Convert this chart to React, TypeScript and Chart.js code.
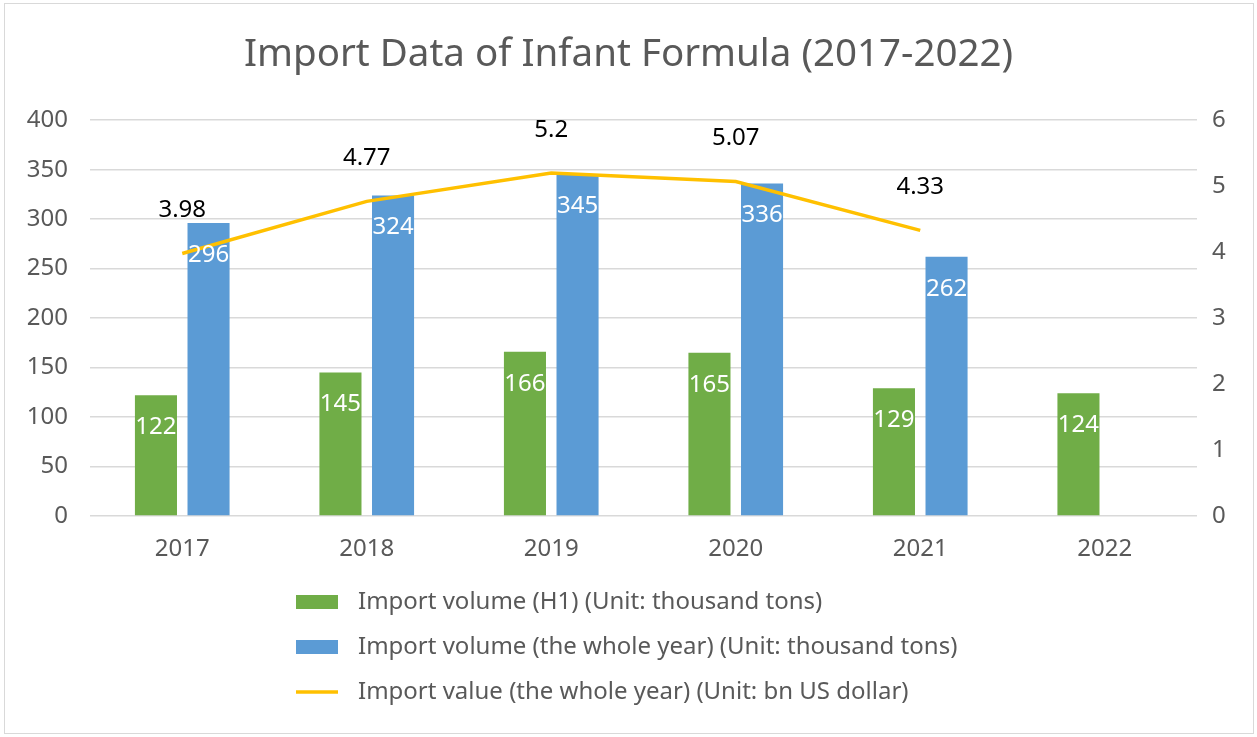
import React, { useEffect, useRef } from "react";
import { Chart, registerables } from "chart.js";

Chart.register(...registerables);

const years = ["2017", "2018", "2019", "2020", "2021", "2022"];
const volumeH1 = [122, 145, 166, 165, 129, 124];
const volumeYear = [296, 324, 345, 336, 262, null];
const valueYear = [3.98, 4.77, 5.2, 5.07, 4.33, null];

const leftTicks = [0, 50, 100, 150, 200, 250, 300, 350, 400];
const rightTicks = [0, 1, 2, 3, 4, 5, 6];

const seriesNames = [
  "Import volume (H1) (Unit: thousand tons)",
  "Import volume (the whole year) (Unit: thousand tons)",
  "Import value (the whole year) (Unit: bn US dollar)",
];

const GREEN = "#70AD47";
const BLUE = "#5B9BD5";
const GOLD = "#FFC000";
const GREY_TEXT = "#595959";
const FONT = "'Noto Sans', sans-serif";
const TEXT_SIZE = 24;

// Value labels: white inside the top of each bar, black above each line point
const valueLabels = {
  id: "valueLabels",
  afterDatasetsDraw(chart: any) {
    const ctx = chart.ctx;
    ctx.save();
    ctx.textAlign = "center";
    ctx.textBaseline = "middle";
    ctx.font = `${TEXT_SIZE}px ${FONT}`;
    chart.data.datasets.forEach((ds: any, i: number) => {
      const meta = chart.getDatasetMeta(i);
      meta.data.forEach((el: any, j: number) => {
        const v = ds.data[j];
        if (v == null) return;
        if (ds.type === "line") {
          ctx.fillStyle = "#000000";
          ctx.fillText(String(v), el.x, el.y - 43);
        } else {
          ctx.fillStyle = "#FFFFFF";
          ctx.fillText(String(v), el.x, el.y + 32);
        }
      });
    });
    ctx.restore();
  },
};

// Stacked legend beneath the axis
const stackedLegend = {
  id: "stackedLegend",
  afterDraw(chart: any) {
    const ctx = chart.ctx;
    const x0 = 296;
    const rows = [602, 647, 692];
    const order = [1, 2, 0];
    ctx.save();
    ctx.font = `${TEXT_SIZE}px ${FONT}`;
    ctx.textBaseline = "middle";
    ctx.textAlign = "left";
    order.forEach((di, k) => {
      const ds = chart.data.datasets[di];
      const y = rows[k];
      if (ds.type === "line") {
        ctx.strokeStyle = ds.borderColor;
        ctx.lineWidth = 3.5;
        ctx.beginPath();
        ctx.moveTo(x0, y);
        ctx.lineTo(x0 + 42, y);
        ctx.stroke();
      } else {
        ctx.fillStyle = ds.backgroundColor;
        ctx.fillRect(x0, y - 7, 42, 14);
      }
      ctx.fillStyle = GREY_TEXT;
      ctx.fillText(ds.label, x0 + 62, y);
    });
    ctx.restore();
  },
};

export default function App() {
  const ref = useRef<HTMLCanvasElement | null>(null);

  useEffect(() => {
    document.body.style.margin = "0";
    if (!ref.current) return;
    const chart = new Chart(ref.current, {
      type: "bar",
      data: {
        labels: years,
        datasets: [
          {
            type: "line",
            label: seriesNames[2],
            data: valueYear,
            yAxisID: "y1",
            borderColor: GOLD,
            backgroundColor: GOLD,
            borderWidth: 3.5,
            pointRadius: 0,
            pointHoverRadius: 0,
            tension: 0,
            spanGaps: false,
            order: 0,
          } as any,
          {
            type: "bar",
            label: seriesNames[0],
            data: volumeH1,
            yAxisID: "y",
            backgroundColor: GREEN,
            categoryPercentage: 0.57,
            barPercentage: 0.8,
            order: 1,
          },
          {
            type: "bar",
            label: seriesNames[1],
            data: volumeYear,
            yAxisID: "y",
            backgroundColor: BLUE,
            categoryPercentage: 0.57,
            barPercentage: 0.8,
            order: 1,
          },
        ],
      },
      options: {
        animation: false,
        responsive: false,
        layout: { padding: { left: 0, right: 0, top: 0, bottom: 181 } },
        plugins: {
          legend: { display: false },
          tooltip: { enabled: false },
          title: {
            display: true,
            text: "Import Data of Infant Formula (2017-2022)",
            color: GREY_TEXT,
            font: { family: FONT, size: 38.5, weight: "normal" },
            padding: { top: 32, bottom: 42 },
          },
        },
        scales: {
          x: {
            grid: { display: false },
            border: { display: false },
            ticks: { color: GREY_TEXT, font: { family: FONT, size: TEXT_SIZE }, padding: 11 },
            afterFit: (s: any) => {
              s.height = 40;
            },
          },
          y: {
            position: "left",
            min: leftTicks[0],
            max: leftTicks[leftTicks.length - 1],
            afterBuildTicks: (s: any) => {
              s.ticks = leftTicks.map((v) => ({ value: v }));
            },
            grid: { color: "#D9D9D9", lineWidth: 1.5, drawTicks: false },
            border: { display: false },
            ticks: { color: GREY_TEXT, font: { family: FONT, size: TEXT_SIZE }, padding: 22 },
            afterFit: (s: any) => {
              s.width = 90;
            },
          },
          y1: {
            position: "right",
            min: rightTicks[0],
            max: rightTicks[rightTicks.length - 1],
            afterBuildTicks: (s: any) => {
              s.ticks = rightTicks.map((v) => ({ value: v }));
            },
            grid: { display: false, drawTicks: false },
            border: { display: false },
            ticks: { color: GREY_TEXT, font: { family: FONT, size: TEXT_SIZE }, padding: 15 },
            afterFit: (s: any) => {
              s.width = 60;
            },
          },
        },
      },
      plugins: [valueLabels, stackedLegend],
    });
    return () => chart.destroy();
  }, []);

  return (
    <div style={{ position: "relative", width: 1257, height: 737, background: "#fff" }}>
      <canvas ref={ref} width={1257} height={737} style={{ display: "block" }} />
      <div
        style={{
          position: "absolute",
          left: 4,
          top: 3,
          width: 1248,
          height: 729,
          border: "1.5px solid #D9D9D9",
          pointerEvents: "none",
        }}
      />
    </div>
  );
}
